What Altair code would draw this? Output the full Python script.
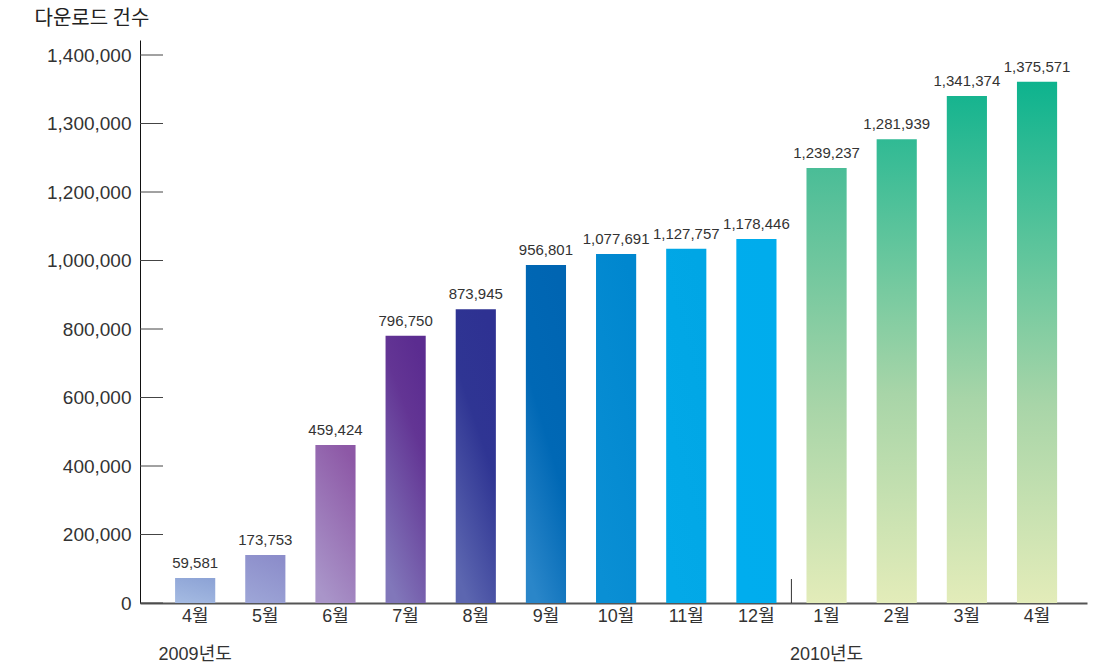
import altair as alt
import pandas as pd

# ---- data ----
keys = ["4월|2009년도", "5월", "6월", "7월", "8월", "9월", "10월", "11월", "12월",
        "1월|2010년도", "2월", "3월", "4월"]
label_values = [59581, 173753, 459424, 796750, 873945, 956801, 1077691, 1127757,
                1178446, 1239237, 1281939, 1341374, 1375571]
# bar heights as drawn, read against the axis
bar_heights = [73000, 140000, 461000, 780000, 858000, 987000, 1019000, 1034000,
               1063000, 1235000, 1277000, 1340000, 1361000]
tick_values = [0, 200000, 400000, 600000, 800000, 1000000, 1200000, 1300000, 1400000]

# ---- styles ----
GREEN_BOTTOM = "#e3ecb9"
def vgrad(top, bottom, mid=None):
    stops = [{"offset": 0, "color": top}]
    if mid:
        stops.append({"offset": mid[0], "color": mid[1]})
    stops.append({"offset": 1, "color": bottom})
    return {"gradient": "linear", "x1": 0.7, "y1": 0, "x2": 0.3, "y2": 1, "stops": stops}

bar_colors = [
    vgrad("#8ea4d6", "#a3b9e1"),
    vgrad("#8c8dca", "#9ca4d6"),
    vgrad("#8d58a6", "#a995c9"),
    vgrad("#5b2c90", "#8177ba", (0.3, "#633594")),
    vgrad("#2e3192", "#5c66b0", (0.4, "#2f3593")),
    vgrad("#0065b2", "#2a86c9", (0.5, "#0068b5")),
    vgrad("#0087cf", "#0a8fd4"),
    vgrad("#00a6e5", "#03a9e8"),
    vgrad("#00acec", "#00adee"),
    vgrad("#4abd97", GREEN_BOTTOM, (0.55, "#a8d5a8")),
    vgrad("#30ba94", GREEN_BOTTOM, (0.55, "#a8d5a8")),
    vgrad("#16b48f", GREEN_BOTTOM, (0.6, "#a8d5a8")),
    vgrad("#0db38e", GREEN_BOTTOM, (0.62, "#a8d5a8")),
]
for g in bar_colors[9:]:
    g.update({"x1": 0, "x2": 0})

df = pd.DataFrame({"key": keys, "value": label_values, "height": bar_heights})
ticks_df = pd.DataFrame({"v": tick_values})

W, H = 947, 563
yscale = alt.Scale(domain=[0, 1200000, 1400000, 1421900], range=[563, 152, 15, 0],
                   nice=False, zero=False)
xscale = alt.Scale(domain=keys, paddingInner=0.4275, paddingOuter=0.463, align=0.54)

LABEL_FONT = "'Liberation Sans', sans-serif"

x_enc = alt.X("key:N", scale=xscale, sort=keys,
              axis=alt.Axis(title=None, labelAngle=0, ticks=False,
                            labelExpr="split(datum.value, '|')",
                            labelFont="'Liberation Sans', 'Noto Sans CJK KR', sans-serif",
                            labelFontSize=18, labelColor="#333", labelLineHeight=38,
                            labelPadding=4, domainColor="#555", domainWidth=2,
                            labelBaseline="top"))
y_enc = alt.Y("height:Q", scale=yscale,
              axis=alt.Axis(values=tick_values, format=",d", ticks=False,
                            labelFont="'Liberation Sans', sans-serif", labelFontSize=19,
                            labelColor="#333", labelPadding=9, grid=False,
                            domainColor="#111", domainWidth=1,
                            title="다운로드 건수", titleAngle=0, titleAlign="left",
                            titleBaseline="middle", titleX=-106, titleY=-22,
                            titleFont="'Noto Sans CJK KR', sans-serif", titleFontSize=20,
                            titleFontWeight="normal", titleColor="#222"))

layers = []
for i, k in enumerate(keys):
    layers.append(
        alt.Chart(df).transform_filter(alt.datum.key == k)
        .mark_bar(color=bar_colors[i])
        .encode(x=x_enc, y=y_enc)
    )

labels = alt.Chart(df).mark_text(baseline="bottom", dy=-7, font=LABEL_FONT,
                                 fontSize=15, color="#333").encode(
    x=alt.X("key:N", scale=xscale, sort=keys),
    y=alt.Y("height:Q", scale=yscale),
    text=alt.Text("value:Q", format=",d"),
)

tick_marks = alt.Chart(ticks_df).mark_rule(color="#444", strokeWidth=1).encode(
    y=alt.Y("v:Q", scale=yscale), x=alt.value(0), x2=alt.value(23)
)

separator = alt.Chart(pd.DataFrame({"a": [0]})).mark_rule(
    color="#333", strokeWidth=1, xOffset=35
).encode(
    x=alt.X(datum="12월", scale=xscale),
    y=alt.Y(datum=0, scale=yscale),
    y2=alt.Y2(datum=70000),
)

chart = alt.layer(*layers, labels, tick_marks, separator).properties(
    width=W, height=H,
    autosize=alt.AutoSizeParams(type="none"),
    padding={"left": 140, "top": 40, "right": 12, "bottom": 60},
    background="white",
).configure_view(stroke=None)

chart.save("out.html", embed_options={"renderer": "svg", "actions": False})
